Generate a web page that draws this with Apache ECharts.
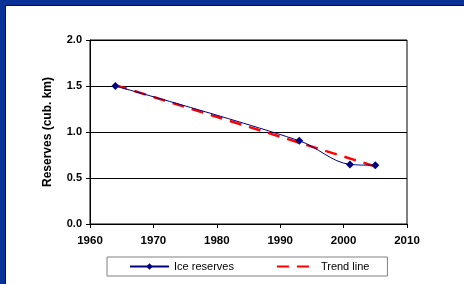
<!DOCTYPE html>
<html>
<head>
<meta charset="utf-8">
<script src="https://cdn.jsdelivr.net/npm/echarts@6/dist/echarts.min.js"></script>
<style>
html,body{margin:0;padding:0;background:#fff;}
#chart{width:464px;height:284px;}
</style>
</head>
<body>
<div id="chart"></div>
<script>
// values
const years = [1964, 1993, 2001, 2005];
const reserves = [1.5, 0.905, 0.648, 0.638];
const trendYears = [1964, 2005];
const trendValues = [1.51, 0.625];
const xTicks = [1960, 2010, 10];
const yTicks = [0, 2, 0.5];

const chart = echarts.init(document.getElementById('chart'));
const font = 'Liberation Sans, Arial, sans-serif';

let option = {
    animation:false,
    backgroundColor:'#fff',
    graphic:[
        {type:'rect',shape:{x:0,y:0,width:464,height:5},style:{fill:'#0a3296'},silent:true},
        {type:'rect',shape:{x:0,y:0,width:5,height:284},style:{fill:'#0a3296'},silent:true},
        {type:'rect',shape:{x:5,y:5,width:459,height:1},style:{fill:'#0a0a2a'},silent:true},
        {type:'rect',shape:{x:5,y:5,width:1,height:279},style:{fill:'#0a0a2a'},silent:true}
    ],
    grid:{
        left:90,right:57,top:40,bottom:60,
        show:true,borderColor:'#000',borderWidth:1,backgroundColor:'#fff'
    },
    legend:{
        left:107,top:257,
        padding:[4,18,4,22],
        itemGap:42,
        itemWidth:39,itemHeight:8,
        borderColor:'#808080',borderWidth:1,
        backgroundColor:'#fff',
        textStyle:{fontFamily:font,fontSize:11,color:'#000'},
        data:['Ice reserves',{name:'Trend line',itemStyle:{opacity:0}}]
    },
    xAxis:{
        type:'value',
        min:xTicks[0],max:xTicks[1],interval:xTicks[2],
        axisLine:{lineStyle:{color:'#000',width:1}},
        axisTick:{show:true,length:4,lineStyle:{color:'#000'}},
        splitLine:{show:false},
        axisLabel:{color:'#000',fontFamily:font,fontSize:11.5,fontWeight:'bold',margin:11,
            formatter:function(v){return String(v)}}
    },
    yAxis:{
        type:'value',
        min:yTicks[0],max:yTicks[1],interval:yTicks[2],
        name:'Reserves (cub. km)',
        nameLocation:'middle',
        nameGap:36,
        nameTextStyle:{color:'#000',fontFamily:font,fontSize:12,fontWeight:'bold'},
        axisLine:{show:true,lineStyle:{color:'#000',width:1}},
        axisTick:{show:true,length:4,lineStyle:{color:'#000'}},
        splitLine:{lineStyle:{color:'#000',width:1}},
        axisLabel:{color:'#000',fontFamily:font,fontSize:11,fontWeight:'bold',margin:8,
            formatter:function(v){return v.toFixed(1)}}
    },
    series:[
        {
            name:'Ice reserves',
            type:'line',
            smooth:0.35,
            data:years.map((y,i)=>[y,reserves[i]]),
            symbol:'diamond',symbolSize:8,
            itemStyle:{color:'#000080'},
            lineStyle:{color:'#000080',width:1},
            z:3
        },
        {
            name:'Trend line',
            type:'line',
            data:trendYears.map((y,i)=>[y,trendValues[i]]),
            symbol:'none',
            itemStyle:{color:'#ff0000'},
            lineStyle:{color:'#ff0000',width:2.5,type:[12,8]},
            z:2
        }
    ]
};
chart.setOption(option);
</script>
</body>
</html>
